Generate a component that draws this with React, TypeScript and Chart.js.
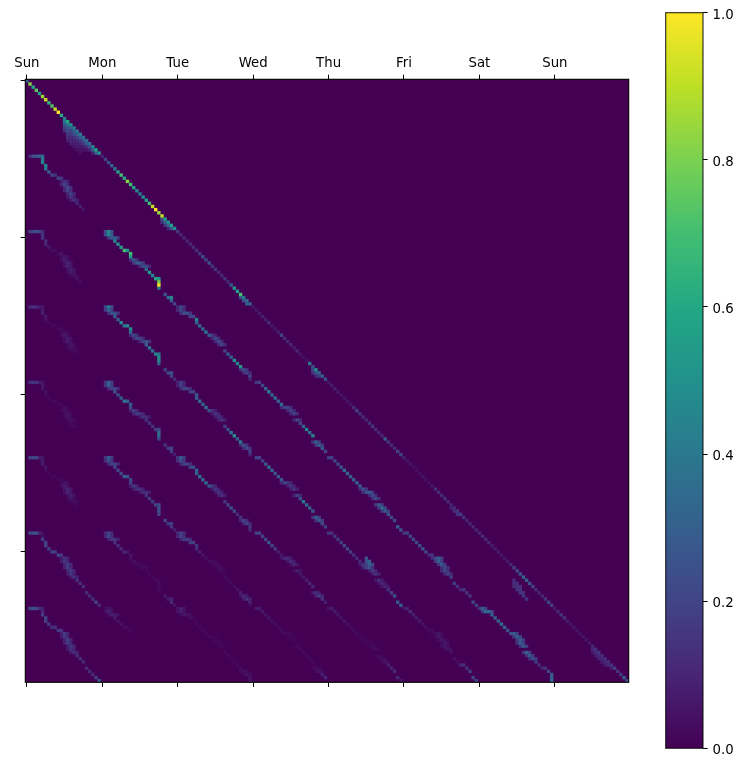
import React, { useEffect, useRef } from "react";
import { Chart, registerables } from "chart.js";

Chart.register(...registerables);

const dayLabels = ["Sun", "Mon", "Tue", "Wed", "Thu", "Fri", "Sat", "Sun"];
const dayTicks = [0, 24, 48, 72, 96, 120, 144, 168];
const rowTicks = [0, 50, 100, 150];
const colorbarTicks = [0, 0.2, 0.4, 0.6, 0.8, 1];
const CELLS = 192;

// ---- main diagonal, one array per day
const diagDay0 = [0.3, 0.82, 0.6, 0.75, 0.58, 0.85, 0.92, 0.65, 0.72, 0.9, 1, 0.6, 0.45, 0.6, 0.5, 0.42, 0.38, 0.4, 0.35, 0.35, 0.35, 0.45, 0.6, 0.5];
const diagDay1 = [0.08, 0.2, 0.25, 0.3, 0.4, 0.55, 0.7, 0.6, 0.82, 0.7, 0.55, 0.45, 0.4, 0.5, 0.55, 0.7, 0.9, 1, 0.85, 0.9, 0.55, 0.5, 0.55, 0.5];
const diagDay2 = [0.15, 0.12, 0.1, 0.1, 0.1, 0.12, 0.14, 0.16, 0.25, 0.2, 0.25, 0.15, 0.15, 0.12, 0.12, 0.14, 0.12, 0.28, 0.5, 0.55, 0.7, 0.4, 0.35, 0.3];
const diagDay3 = [0.06, 0.06, 0.07, 0.08, 0.08, 0.12, 0.06, 0.06, 0.08, 0.22, 0.12, 0.1, 0.1, 0.08, 0.1, 0.06, 0.04, 0.05, 0.4, 0.25, 0.5, 0.35, 0.3, 0.25];
const diagDay4 = [0.06, 0.07, 0.08, 0.06, 0.05, 0.05, 0.05, 0.06, 0.12, 0.2, 0.14, 0.12, 0.1, 0.14, 0.15, 0.12, 0.1, 0.1, 0.3, 0.15, 0.12, 0.12, 0.2, 0.2];
const diagDay5 = [0.08, 0.05, 0.05, 0.04, 0.04, 0.04, 0.05, 0.04, 0.04, 0.06, 0.14, 0.12, 0.12, 0.14, 0.1, 0.1, 0.12, 0.15, 0.18, 0.14, 0.1, 0.1, 0.1, 0.1];
const diagDay6 = [0.1, 0.12, 0.12, 0.1, 0.08, 0.08, 0.07, 0.06, 0.06, 0.07, 0.1, 0.18, 0.22, 0.25, 0.32, 0.3, 0.25, 0.2, 0.12, 0.1, 0.1, 0.14, 0.2, 0.18];
const diagDay7 = [0.07, 0.1, 0.14, 0.14, 0.08, 0.05, 0.05, 0.05, 0.05, 0.05, 0.05, 0.06, 0.12, 0.14, 0.15, 0.12, 0.13, 0.14, 0.14, 0.18, 0.14, 0.16, 0.3, 0.25];
const mainDiagonal = [diagDay0, diagDay1, diagDay2, diagDay3, diagDay4, diagDay5, diagDay6, diagDay7];

// ---- off-diagonal wedges: [row of first cell, column of first cell, values down the diagonal]
const wedges: [number, number, number[]][] = [
  [13, 12, [0.4, 0.38, 0.3, 0.3, 0.32, 0.28, 0.26, 0.28, 0.22, 0.28, 0.3]],
  [14, 12, [0.28, 0.28, 0.2, 0.22, 0.18, 0.16, 0.15, 0.12, 0.1, 0.08]],
  [15, 12, [0.18, 0.22, 0.16, 0.14, 0.12, 0.1, 0.08, 0.06]],
  [16, 12, [0.14, 0.16, 0.12, 0.1, 0.08, 0.06, 0.04]],
  [18, 13, [0.12, 0.1, 0.08, 0.08, 0.05]],
  [19, 13, [0.08, 0.08, 0.06, 0.05, 0.04]],
  [44, 43, [0.25, 0.3, 0.3, 0.25]],
  [45, 43, [0.14, 0.16, 0.12]],
  [69, 68, [0.25, 0.25, 0.3]],
  [92, 91, [0.22, 0.25, 0.18]],
  [93, 91, [0.14, 0.12]],
  [136, 135, [0.1, 0.12, 0.14]],
  [159, 155, [0.12, 0.13, 0.13]],
  [160, 155, [0.13, 0.14, 0.15, 0.14]],
  [161, 155, [0.12, 0.14, 0.16, 0.16, 0.15]],
  [162, 156, [0.12, 0.15, 0.16, 0.12]],
  [181, 180, [0.1, 0.1, 0.1, 0.11, 0.11, 0.1, 0.08]],
  [182, 180, [0.07, 0.08, 0.08, 0.08, 0.08]],
  [152, 108, [0.25, 0.3, 0.2]],
  [153, 108, [0.24, 0.28]],
  [154, 108, [0.18, 0.24]],
];

// ---- band for column-day 0: path as [column, row offset in the band]
const pathCol0: [number, number][] = [[1,0],[2,0],[3,0],[4,0],[5,0],[5,1],[5,2],[6,3],[6,4],[7,5],[8,6],[9,6],[10,7],[11,7],[12,8],[12,9],[13,10],[13,11],[14,12],[14,13],[15,14],[16,15],[17,16],[18,17],[19,19],[20,20],[21,21],[22,22],[23,23]];
const wideCol0 = [14, 15, 16, 17, 18, 19, 20];
const col0Row1 = [0.12, 0.25, 0.25, 0.3, 0.35, 0.42, 0.45, 0.45, 0.4, 0.3, 0.2, 0.15, 0.2, 0.15, 0.14, 0.2, 0.22, 0.2, 0.2, 0.15, 0.14, 0.1, 0.08, 0.05, 0, 0, 0, 0, 0];
const col0Row2 = [0.2, 0.22, 0.25, 0.2, 0.12, 0.15, 0.15, 0.12, 0.1, 0.06, 0.03, 0.03, 0.03, 0.05, 0.06, 0.08, 0.1, 0.1, 0.08, 0.07, 0.05, 0.04, 0.03, 0, 0, 0, 0, 0, 0];
const col0Row3 = [0.12, 0.14, 0.12, 0.08, 0.06, 0.08, 0.08, 0.06, 0.05, 0.03, 0.02, 0.02, 0.02, 0.03, 0.04, 0.06, 0.07, 0.07, 0.06, 0.05, 0.03, 0, 0, 0, 0, 0, 0, 0, 0];
const col0Row4 = [0.14, 0.16, 0.14, 0.08, 0.05, 0.06, 0.05, 0.04, 0.03, 0.02, 0.02, 0.02, 0.02, 0.02, 0.03, 0.04, 0.05, 0.05, 0.04, 0.03, 0.02, 0, 0, 0, 0, 0, 0, 0, 0];
const col0Row5 = [0.2, 0.22, 0.2, 0.08, 0.06, 0.08, 0.07, 0.05, 0.03, 0.02, 0.02, 0.02, 0.02, 0.03, 0.05, 0.08, 0.1, 0.1, 0.08, 0.06, 0.04, 0.02, 0, 0, 0, 0, 0, 0, 0];
const col0Row6 = [0.22, 0.25, 0.25, 0.1, 0.04, 0.04, 0.18, 0.2, 0.2, 0.18, 0.2, 0.18, 0.2, 0.15, 0.14, 0.16, 0.18, 0.18, 0.18, 0.16, 0.14, 0.14, 0.13, 0.12, 0.12, 0.12, 0.14, 0.2, 0.12];
const col0Row7 = [0.22, 0.25, 0.22, 0.12, 0.08, 0.1, 0.18, 0.2, 0.2, 0.18, 0.14, 0.15, 0.16, 0.14, 0.16, 0.16, 0.18, 0.18, 0.16, 0.14, 0.14, 0.13, 0.13, 0.12, 0.12, 0.12, 0.12, 0.18, 0.28];

const pathCol1: [number, number][] = [[26,0],[26,1],[27,2],[28,2],[28,3],[29,4],[30,5],[31,6],[32,6],[33,7],[33,8],[34,9],[35,10],[36,10],[37,11],[38,11],[38,12],[39,13],[40,14],[41,15],[42,15],[42,16],[42,17],[42,18],[44,20],[45,21],[46,21],[46,22],[47,23]];
const wideCol1 = [0, 1, 2, 3, 11, 12, 13, 14, 15];
const col1Row2 = [0.45, 0.45, 0.3, 0.3, 0.45, 0.5, 0.55, 0.7, 0.5, 0.7, 0.55, 0.25, 0.3, 0.28, 0.25, 0.2, 0.35, 0.55, 0.45, 0.6, 0.55, 0.8, 1, 0.4, 0.25, 0.35, 0.45, 0.3, 0.2];
const col1Row3 = [0.4, 0.32, 0.25, 0.25, 0.3, 0.3, 0.45, 0.38, 0.45, 0.5, 0.35, 0.22, 0.22, 0.2, 0.2, 0.25, 0.3, 0.4, 0.35, 0.45, 0.4, 0.5, 0.45, 0.3, 0.2, 0.22, 0.25, 0.2, 0.12];
const col1Row4 = [0.3, 0.3, 0.2, 0.2, 0.25, 0.25, 0.3, 0.38, 0.3, 0.28, 0.22, 0.18, 0.18, 0.15, 0.14, 0.12, 0.14, 0.16, 0.14, 0.18, 0.22, 0.35, 0.35, 0.2, 0.14, 0.18, 0.2, 0.16, 0.08];
const col1Row5 = [0.3, 0.25, 0.2, 0.2, 0.2, 0.2, 0.22, 0.3, 0.25, 0.22, 0.18, 0.16, 0.14, 0.14, 0.13, 0.13, 0.15, 0.18, 0.18, 0.2, 0.22, 0.25, 0.24, 0.2, 0.2, 0.18, 0.18, 0.16, 0.08];
const col1Row6 = [0.2, 0.22, 0.15, 0.15, 0.14, 0.13, 0.12, 0.1, 0.06, 0.05, 0.04, 0.03, 0.03, 0.03, 0.03, 0.02, 0.02, 0.02, 0.02, 0.02, 0.02, 0.03, 0.03, 0.03, 0.06, 0.08, 0.1, 0.12, 0.05];
const col1Row7 = [0.06, 0.08, 0.08, 0.07, 0.07, 0.05, 0.04, 0.03, 0.02, 0.02, 0, 0, 0, 0, 0, 0, 0, 0, 0, 0, 0, 0, 0, 0, 0, 0, 0, 0, 0];

const pathCol2: [number, number][] = [[49,0],[49,1],[50,2],[51,2],[52,3],[53,3],[54,4],[54,5],[55,6],[56,7],[57,8],[58,9],[59,9],[60,10],[61,11],[62,12],[63,14],[64,15],[65,16],[66,17],[67,18],[68,19],[69,20],[70,21],[71,22],[71,23]];
const wideCol2 = [0, 1, 2, 3, 12, 13, 14, 15, 22, 23];
const col2Row3 = [0.22, 0.22, 0.25, 0.25, 0.22, 0.22, 0.45, 0.3, 0.35, 0.35, 0.4, 0.3, 0.15, 0.2, 0.22, 0.2, 0.2, 0.28, 0.3, 0.5, 0.45, 0.55, 0.25, 0.2, 0.2, 0.1];
const col2Row4 = [0.18, 0.18, 0.2, 0.2, 0.18, 0.2, 0.3, 0.3, 0.35, 0.3, 0.35, 0.25, 0.12, 0.15, 0.14, 0.14, 0.18, 0.25, 0.4, 0.5, 0.3, 0.4, 0.25, 0.22, 0.18, 0.1];
const col2Row5 = [0.3, 0.25, 0.2, 0.2, 0.2, 0.25, 0.3, 0.3, 0.35, 0.32, 0.35, 0.28, 0.15, 0.15, 0.14, 0.14, 0.15, 0.2, 0.25, 0.22, 0.12, 0.15, 0.2, 0.2, 0.15, 0.12];
const col2Row6 = [0.2, 0.2, 0.18, 0.18, 0.18, 0.18, 0.15, 0.12, 0.08, 0.05, 0.04, 0.04, 0.03, 0.03, 0.03, 0.03, 0.03, 0.03, 0.03, 0.03, 0.05, 0.08, 0.12, 0.15, 0.1, 0.03];
const col2Row7 = [0.09, 0.08, 0.06, 0.05, 0.04, 0.03, 0.02, 0.02, 0.02, 0.02, 0.02, 0.02, 0.02, 0.02, 0.02, 0.02, 0.02, 0.02, 0.02, 0.02, 0.02, 0.03, 0.04, 0.05, 0.05, 0.05];

const pathCol3: [number, number][] = [[73,0],[74,0],[75,1],[76,2],[77,3],[78,4],[79,5],[80,6],[81,7],[82,8],[83,8],[84,9],[85,10],[86,12],[87,13],[88,14],[89,15],[90,16],[91,17],[92,19],[93,20],[94,21],[95,22]];
const wideCol3 = [9, 10, 11, 12, 13, 19, 20];
const col3Row4 = [0.15, 0.18, 0.2, 0.3, 0.42, 0.32, 0.35, 0.3, 0.35, 0.2, 0.2, 0.2, 0.2, 0.2, 0.22, 0.3, 0.45, 0.35, 0.45, 0.3, 0.3, 0.28, 0.2];
const col3Row5 = [0.2, 0.2, 0.18, 0.25, 0.35, 0.3, 0.25, 0.25, 0.28, 0.2, 0.15, 0.15, 0.15, 0.18, 0.25, 0.4, 0.35, 0.3, 0.28, 0.3, 0.28, 0.22, 0.18];
const col3Row6 = [0.18, 0.2, 0.2, 0.22, 0.25, 0.2, 0.18, 0.08, 0.06, 0.1, 0.12, 0.12, 0.1, 0.08, 0.06, 0.06, 0.08, 0.1, 0.1, 0.14, 0.18, 0.15, 0.08];
const col3Row7 = [0.07, 0.07, 0.06, 0.05, 0.05, 0.04, 0.03, 0.03, 0.03, 0.03, 0.02, 0.02, 0.02, 0.02, 0.02, 0.02, 0.03, 0.03, 0.03, 0.04, 0.05, 0.08, 0.1];

const pathCol4: [number, number][] = [[96,0],[97,0],[98,1],[99,2],[100,3],[101,4],[102,5],[103,6],[104,7],[105,8],[106,9],[107,10],[108,11],[109,11],[110,12],[111,13],[112,15],[113,16],[114,17],[115,18],[116,19],[117,20],[118,22],[119,23]];
const wideCol4 = [11, 12, 13, 14, 15, 16, 17, 18];
const col4Row5 = [0.18, 0.2, 0.2, 0.22, 0.25, 0.35, 0.32, 0.3, 0.3, 0.3, 0.28, 0.25, 0.25, 0.28, 0.22, 0.22, 0.3, 0.35, 0.3, 0.25, 0.22, 0.22, 0.3, 0.25];
const col4Row6 = [0.14, 0.14, 0.15, 0.16, 0.18, 0.2, 0.2, 0.18, 0.14, 0.12, 0.12, 0.15, 0.2, 0.2, 0.16, 0.14, 0.12, 0.1, 0.1, 0.14, 0.2, 0.24, 0.28, 0.3];
const col4Row7 = [0.05, 0.07, 0.07, 0.06, 0.05, 0.05, 0.04, 0.03, 0.03, 0.03, 0.02, 0.02, 0.02, 0.02, 0.03, 0.03, 0.03, 0.04, 0.05, 0.08, 0.1, 0.12, 0.1, 0.06];

const pathCol5: [number, number][] = [[120,0],[121,0],[122,1],[123,2],[124,3],[125,4],[126,5],[127,6],[128,7],[129,7],[130,8],[131,8],[131,9],[132,10],[133,11],[133,12],[134,13],[135,14],[136,16],[137,17],[138,18],[139,18],[140,19],[141,20],[142,22],[143,23]];
const wideCol5 = [10, 11, 12, 13, 14, 15, 16];
const col5Row6 = [0.15, 0.2, 0.2, 0.22, 0.22, 0.22, 0.25, 0.22, 0.12, 0.15, 0.22, 0.3, 0.3, 0.28, 0.22, 0.22, 0.2, 0.18, 0.18, 0.14, 0.1, 0.15, 0.15, 0.15, 0.2, 0.18];
const col5Row7 = [0.06, 0.1, 0.12, 0.08, 0.07, 0.06, 0.05, 0.04, 0.03, 0.03, 0.04, 0.05, 0.06, 0.06, 0.06, 0.06, 0.05, 0.04, 0.03, 0.03, 0.1, 0.12, 0.15, 0.18, 0.2, 0.2];

const pathCol6: [number, number][] = [[145,0],[146,1],[147,1],[148,2],[149,3],[150,4],[151,5],[152,6],[153,7],[154,8],[155,8],[156,9],[157,10],[157,11],[158,12],[159,14],[160,15],[161,16],[162,17],[163,18],[164,19],[165,19],[166,20],[167,21],[167,22],[167,23]];
const wideCol6 = [0, 1, 2, 10, 11, 12, 13, 14, 15, 16, 17];
const col6Row7 = [0.3, 0.35, 0.35, 0.3, 0.3, 0.3, 0.35, 0.32, 0.25, 0.25, 0.3, 0.32, 0.3, 0.3, 0.28, 0.3, 0.28, 0.25, 0.18, 0.12, 0.1, 0.14, 0.2, 0.28, 0.3, 0.35];

// [path, wide cells, first row-day, value arrays for successive row-days]
const bands: [[number, number][], number[], number, number[][]][] = [
  [pathCol0, wideCol0, 1, [col0Row1, col0Row2, col0Row3, col0Row4, col0Row5, col0Row6, col0Row7]],
  [pathCol1, wideCol1, 2, [col1Row2, col1Row3, col1Row4, col1Row5, col1Row6, col1Row7]],
  [pathCol2, wideCol2, 3, [col2Row3, col2Row4, col2Row5, col2Row6, col2Row7]],
  [pathCol3, wideCol3, 4, [col3Row4, col3Row5, col3Row6, col3Row7]],
  [pathCol4, wideCol4, 5, [col4Row5, col4Row6, col4Row7]],
  [pathCol5, wideCol5, 6, [col5Row6, col5Row7]],
  [pathCol6, wideCol6, 7, [col6Row7]],
];

const viridisStops = ["#440154", "#482576", "#414487", "#355f8d", "#2a788e", "#21918c", "#22a884", "#42be71", "#7ad151", "#bddf26", "#fde725"];

function hexRgb(h: string) {
  return [1, 3, 5].map((i) => parseInt(h.slice(i, i + 2), 16));
}
function viridis(v: number) {
  const t = Math.max(0, Math.min(1, v)) * (viridisStops.length - 1);
  const i = Math.min(Math.floor(t), viridisStops.length - 2);
  const a = hexRgb(viridisStops[i]);
  const b = hexRgb(viridisStops[i + 1]);
  const f = t - i;
  return `rgb(${a.map((x, k) => Math.round(x + (b[k] - x) * f)).join(",")})`;
}

function buildCells() {
  const cells = new Map<string, number>();
  const put = (r: number, c: number, v: number) => {
    if (r < 0 || c < 0 || r >= CELLS || c >= CELLS || v <= 0) return;
    const k = `${r},${c}`;
    cells.set(k, Math.max(cells.get(k) ?? 0, v));
  };
  mainDiagonal.forEach((day, d) => day.forEach((v, i) => put(d * 24 + i, d * 24 + i, v)));
  wedges.forEach(([r, c, vals]) => vals.forEach((v, i) => put(r + i, c + i, v)));
  bands.forEach(([path, wide, firstRow, rows]) => {
    rows.forEach((vals, k) => {
      const base = (firstRow + k) * 24;
      path.forEach(([c, off], i) => {
        put(base + off, c, vals[i]);
        if (wide.includes(i)) {
          put(base + off, c + 1, vals[i] * 0.6);
          put(base + off, c - 1, vals[i] * 0.5);
        }
      });
    });
  });
  return Array.from(cells.entries())
    .map(([k, v]) => {
      const [r, c] = k.split(",").map(Number);
      return { x: c, y: r, v };
    })
    .sort((a, b) => a.v - b.v);
}

const FONT = "'DejaVu Sans'";
const TICK_COLOR = "#000";

const HeatChart = () => {
  const ref = useRef<HTMLCanvasElement>(null);
  useEffect(() => {
    const points = buildCells();
    const cellPlugin = {
      id: "cellLook",
      beforeDatasetsDraw(chart: any) {
        const { ctx, chartArea: a } = chart;
        ctx.save();
        ctx.fillStyle = viridis(0);
        ctx.fillRect(a.left, a.top, a.width, a.height);
        ctx.filter = "blur(0.65px)";
      },
      afterDatasetsDraw(chart: any) {
        const { ctx, chartArea: a } = chart;
        ctx.restore();
        ctx.save();
        ctx.strokeStyle = "#000";
        ctx.lineWidth = 1.1;
        ctx.strokeRect(a.left, a.top, a.width, a.height);
        ctx.restore();
      },
    };
    const setTicks = (vals: number[]) => (s: any) => {
      s.ticks = vals.map((value) => ({ value }));
    };
    const chart = new Chart(ref.current!, {
      type: "scatter",
      data: {
        datasets: [
          {
            data: points,
            pointStyle: "rect",
            pointRadius: 2.4,
            pointBorderWidth: 0,
            pointBackgroundColor: points.map((p) => viridis(p.v)),
            showLine: false,
          } as any,
        ],
      },
      options: {
        animation: false,
        responsive: false,
        devicePixelRatio: 1,
        events: [],
        layout: { padding: { right: 31.3 } },
        plugins: { legend: { display: false }, tooltip: { enabled: false } },
        scales: {
          x: {
            type: "linear",
            position: "top",
            min: -0.5,
            max: CELLS - 0.5,
            afterBuildTicks: setTicks(dayTicks),
            afterFit: (s: any) => {
              s.height = 79.3;
            },
            border: { display: false },
            grid: { drawOnChartArea: false, drawTicks: true, tickLength: 4.6, tickColor: TICK_COLOR, tickWidth: 1 },
            ticks: {
              autoSkip: false,
              maxRotation: 0,
              padding: 3,
              color: "#000",
              font: { family: FONT, size: 13.3 },
              callback: (v: any) => dayLabels[dayTicks.indexOf(Number(v))] ?? "",
            },
          },
          xBottom: {
            type: "linear",
            position: "bottom",
            min: -0.5,
            max: CELLS - 0.5,
            afterBuildTicks: setTicks(dayTicks),
            afterFit: (s: any) => {
              s.height = 76.7;
            },
            border: { display: false },
            grid: { drawOnChartArea: false, tickLength: 4.6, tickColor: TICK_COLOR, tickWidth: 1 },
            ticks: { autoSkip: false, maxRotation: 0, callback: () => "", font: { size: 1 } },
          },
          y: {
            type: "linear",
            position: "left",
            reverse: true,
            min: -0.5,
            max: CELLS - 0.5,
            afterBuildTicks: setTicks(rowTicks),
            afterFit: (s: any) => {
              s.width = 25.3;
            },
            border: { display: false },
            grid: { drawOnChartArea: false, tickLength: 4.6, tickColor: TICK_COLOR, tickWidth: 1 },
            ticks: { autoSkip: false, callback: () => "", font: { size: 1 } },
          },
        },
      } as any,
      plugins: [cellPlugin],
    });
    return () => chart.destroy();
  }, []);
  return <canvas ref={ref} width={660} height={759} style={{ position: "absolute", left: 0, top: 0 }} />;
};

const ColorBar = () => {
  const ref = useRef<HTMLCanvasElement>(null);
  useEffect(() => {
    const framePlugin = {
      id: "barFrame",
      afterDatasetsDraw(chart: any) {
        const { ctx, chartArea: a } = chart;
        ctx.save();
        ctx.strokeStyle = "rgba(0,0,0,0.85)";
        ctx.lineWidth = 1.1;
        ctx.strokeRect(a.left, a.top, a.width, a.height);
        ctx.restore();
      },
    };
    const chart = new Chart(ref.current!, {
      type: "bar",
      data: {
        labels: [""],
        datasets: [
          {
            data: [[0, 1]],
            barPercentage: 1,
            categoryPercentage: 1,
            backgroundColor: (c: any) => {
              const { ctx, chartArea } = c.chart;
              if (!chartArea) return viridis(0.5);
              const g = ctx.createLinearGradient(0, chartArea.bottom, 0, chartArea.top);
              viridisStops.forEach((col, i) => g.addColorStop(i / (viridisStops.length - 1), col));
              return g;
            },
          } as any,
        ],
      },
      options: {
        animation: false,
        responsive: false,
        devicePixelRatio: 1,
        events: [],
        layout: { padding: { left: 15.7, top: 12.7, bottom: 10.7, right: 0 } },
        plugins: { legend: { display: false }, tooltip: { enabled: false } },
        scales: {
          x: { display: false },
          y: {
            type: "linear",
            position: "right",
            min: 0,
            max: 1,
            afterBuildTicks: (s: any) => {
              s.ticks = colorbarTicks.map((value) => ({ value }));
            },
            afterFit: (s: any) => {
              s.width = 35;
              s.paddingTop = 0;
              s.paddingBottom = 0;
            },
            border: { display: false },
            grid: { drawOnChartArea: false, tickLength: 4.6, tickColor: TICK_COLOR, tickWidth: 1 },
            ticks: {
              padding: 5,
              color: "#000",
              font: { family: FONT, size: 13.3, lineHeight: "5px" },
              callback: (v: any) => ["", Number(v).toFixed(1)],
            },
          },
        },
      } as any,
      plugins: [framePlugin],
    });
    return () => chart.destroy();
  }, []);
  return <canvas ref={ref} width={88} height={759} style={{ position: "absolute", left: 650, top: 0 }} />;
};

export default function App() {
  return (
    <div style={{ position: "absolute", left: 0, top: 0, width: 738, height: 759, background: "#fff", overflow: "hidden" }}>
      <HeatChart />
      <ColorBar />
    </div>
  );
}
